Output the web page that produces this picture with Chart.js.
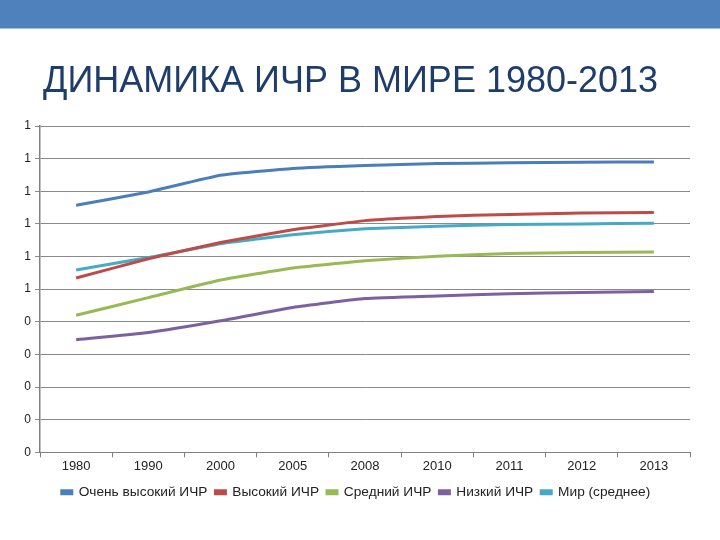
<!DOCTYPE html>
<html>
<head>
<meta charset="utf-8">
<script src="https://cdn.jsdelivr.net/npm/chart.js@4.4.1/dist/chart.umd.min.js"></script>
<style>
  html, body { margin:0; padding:0; background:#fff; }
  #wrap { position:relative; width:720px; height:540px; overflow:hidden; }
  #bar { position:absolute; left:0; top:0; width:720px; height:28px; background:#4F81BD; border-bottom:1px solid #9DBCE0; }
  #title { position:absolute; left:43px; top:58px; font-family:"Liberation Sans", Arial, sans-serif; font-size:36px; color:#1F3D6B; white-space:nowrap; line-height:44px; }
  #c { position:absolute; left:0; top:0; }
</style>
</head>
<body>
<div id="wrap">
  <canvas id="c" width="720" height="540"></canvas>
  <div id="bar"></div>
  <div id="title">ДИНАМИКА ИЧР В МИРЕ 1980-2013</div>
</div>
<script>
const years = ['1980','1990','2000','2005','2008','2010','2011','2012','2013'];
const veryHigh = [0.757,0.798,0.849,0.870,0.879,0.885,0.887,0.889,0.890];
const high     = [0.534,0.593,0.643,0.682,0.710,0.723,0.729,0.733,0.735];
const medium   = [0.420,0.474,0.528,0.565,0.587,0.601,0.609,0.612,0.614];
const low      = [0.345,0.367,0.403,0.444,0.471,0.479,0.486,0.490,0.493];
const world    = [0.559,0.597,0.639,0.667,0.685,0.693,0.698,0.700,0.702];
const seriesNames = ['Очень высокий ИЧР','Высокий ИЧР','Средний ИЧР','Низкий ИЧР','Мир (среднее)'];
const yTickLabels = ['0','0','0','0','0','1','1','1','1','1','1'];

const colors = ['#4A7EBB','#BE4B48','#98B954','#7D60A0','#46AAC5'];
const seriesData = [veryHigh, high, medium, low, world];

const FONT = '"Liberation Sans", Arial, sans-serif';

new Chart(document.getElementById('c'), {
  type: 'line',
  data: {
    labels: years,
    datasets: seriesData.map((d, i) => ({
      label: seriesNames[i],
      data: d,
      borderColor: colors[i],
      backgroundColor: colors[i],
      borderWidth: 3,
      pointRadius: 0,
      tension: 0.12,
      fill: false
    }))
  },
  options: {
    responsive: false,
    animation: false,
    devicePixelRatio: 1,
    layout: { padding: { top: 126, right: 30, bottom: 31, left: 22 } },
    plugins: {
      legend: {
        position: 'bottom',
        labels: {
          font: { family: FONT, size: 13.7 },
          color: '#222',
          boxWidth: 10,
          boxHeight: 3,
          padding: 8
        }
      },
      tooltip: { enabled: false }
    },
    scales: {
      x: {
        offset: true,
        grid: { display: true, drawOnChartArea: false, drawTicks: true, tickLength: 5, offset: true, color: '#808080' },
        border: { color: '#808080', width: 1 },
        ticks: { font: { family: FONT, size: 13 }, color: '#222', padding: 1 },
        afterFit: s => { s.height = 25; }
      },
      y: {
        min: 0, max: 1.0,
        grid: { color: '#8a8a8a', lineWidth: 1, tickLength: 5 },
        border: { color: '#808080', width: 1.5 },
        ticks: {
          stepSize: 0.1,
          font: { family: FONT, size: 12 },
          color: '#222',
          padding: 4,
          callback: (v, i) => yTickLabels[i]
        },
        afterFit: s => { s.width = 18; }
      }
    }
  }
});
</script>
</body>
</html>
